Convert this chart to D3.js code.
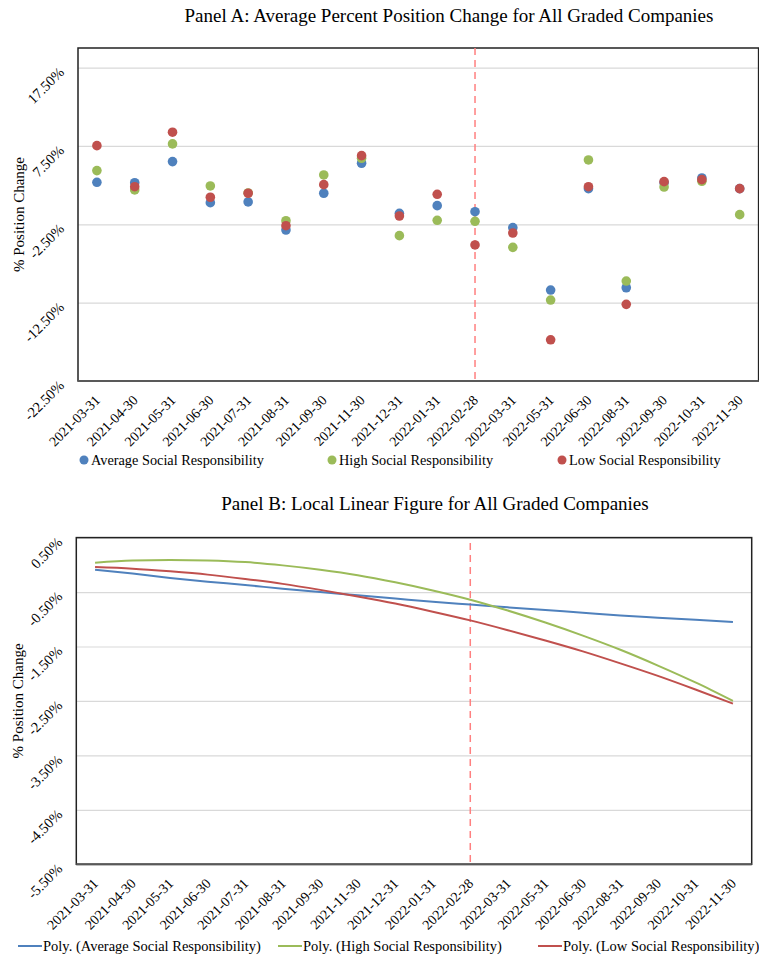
<!DOCTYPE html>
<html>
<head>
<meta charset="utf-8">
<script src="https://cdn.jsdelivr.net/npm/d3@7"></script>
<style>
    body { margin: 0; background: #fff; }
    svg text { font-family: "Liberation Serif", "Times New Roman", serif; fill: #000; }
</style>
</head>
<body>
<div id="chart"></div>
<script>
// month-end dates on the category axis
const categories = ["2021-03-31", "2021-04-30", "2021-05-31", "2021-06-30", "2021-07-31", "2021-08-31", "2021-09-30", "2021-11-30", "2021-12-31",
    "2022-01-31", "2022-02-28", "2022-03-31", "2022-05-31", "2022-06-30", "2022-08-31", "2022-09-30", "2022-10-31", "2022-11-30"];
const eventDate = "2022-02-28";

// Panel A: average % position change
const avgChange = [2.86, 2.81, 5.5, 0.26, 0.35, -3.23, 1.46, 5.29, -1.1, -0.12, -0.89, -2.93, -10.89, 2.05, -10.6, 2.8, 3.41, 2.05];
const highChange = [4.35, 1.88, 7.76, 2.39, 1.5, -2.04, 3.8, 5.93, -3.95, -1.99, -2.12, -5.44, -12.17, 5.71, -9.74, 2.26, 2.99, -1.27];
const lowChange = [7.54, 2.3, 9.25, 0.95, 1.46, -2.68, 2.56, 6.26, -1.44, 1.33, -5.14, -3.61, -17.24, 2.3, -12.72, 2.94, 3.2, 2.05];

// Panel B: poly trend values at each category
const avgTrend = [-0.09, -0.16, -0.24, -0.31, -0.37, -0.44, -0.50, -0.56, -0.62, -0.68, -0.73, -0.78, -0.83, -0.88, -0.93, -0.97, -1.01, -1.05];
const highTrend = [0.04, 0.08, 0.09, 0.08, 0.05, -0.01, -0.09, -0.19, -0.32, -0.47, -0.64, -0.84, -1.06, -1.30, -1.56, -1.85, -2.16, -2.50];
const lowTrend = [-0.04, -0.07, -0.12, -0.18, -0.26, -0.35, -0.46, -0.58, -0.71, -0.86, -1.02, -1.20, -1.39, -1.59, -1.81, -2.04, -2.29, -2.55];

const domainA = [-22.5, 20], ticksA = [-22.5, -12.5, -2.5, 7.5, 17.5];
const domainB = [-5.5, 0.5], ticksB = [-5.5, -4.5, -3.5, -2.5, -1.5, -0.5, 0.5];

const seriesNames = ["Average Social Responsibility", "High Social Responsibility", "Low Social Responsibility"];
const colors = ["#4f81bd", "#9bbb59", "#c0504d"];

(function () {
    const W = 759, H = 960, fmt = d => d.toFixed(2) + "%";
    const svg = d3.select("#chart").append("svg").attr("width", W).attr("height", H);

    function panel(o) {
        const x = d3.scaleBand().domain(categories).range([o.l, o.r]),
            y = d3.scaleLinear().domain(o.domain).range([o.b, o.t]),
            cx = c => x(c) + x.bandwidth() / 2,
            g = svg.append("g");

        g.append("text").attr("x", o.titleX).attr("y", o.titleY).attr("text-anchor", "middle")
            .style("font-size", "19px").text(o.title);

        // grid
        const grid = g.append("g").attr("transform", `translate(${o.l},0)`)
            .call(d3.axisLeft(y).tickValues(o.ticks).tickSize(-(o.r - o.l)).tickFormat(""));
        grid.select(".domain").remove();
        grid.selectAll("line").attr("stroke", "#d9d9d9").attr("stroke-width", 1.2);

        // frame
        g.append("rect").attr("x", o.l).attr("y", o.t).attr("width", o.r - o.l).attr("height", o.b - o.t)
            .attr("fill", "none").attr("stroke", "#222").attr("stroke-width", 1.5);
        g.append("line").attr("x1", o.l).attr("x2", o.r).attr("y1", o.b).attr("y2", o.b)
            .attr("stroke", "#595959").attr("stroke-width", 2);

        // y labels
        const ya = g.append("g").attr("transform", `translate(${o.l},0)`)
            .call(d3.axisLeft(y).tickValues(o.ticks).tickSize(0).tickFormat(fmt));
        ya.select(".domain").remove();
        ya.selectAll("text").attr("x", 0).attr("dy", 0).attr("text-anchor", "end")
            .attr("transform", "translate(-13,5) rotate(-45)").style("font-size", "14.5px");

        g.append("text").attr("transform", `translate(${o.titleYX},${(o.t + o.b) / 2}) rotate(-90)`)
            .attr("text-anchor", "middle").style("font-size", "15px").text("% Position Change");

        // x labels
        const xa = g.append("g").attr("transform", `translate(0,${o.b})`)
            .call(d3.axisBottom(x).tickSize(0));
        xa.select(".domain").remove();
        xa.selectAll("text").attr("y", 0).attr("dy", 0).attr("text-anchor", "end")
            .attr("transform", "translate(4,20) rotate(-45)").style("font-size", "14px");

        // event marker
        g.append("line").attr("x1", cx(eventDate)).attr("x2", cx(eventDate)).attr("y1", o.dashTop).attr("y2", o.b)
            .attr("stroke", "#ff8080").attr("stroke-width", 1.5).attr("stroke-dasharray", "7,5");

        return { g, x, y, cx };
    }

    // Panel A
    const A = panel({
        l: 78, r: 758.6, t: 48, b: 381, domain: domainA, ticks: ticksA, dashTop: 48,
        title: "Panel A: Average Percent Position Change for All Graded Companies", titleX: 449, titleY: 22, titleYX: 24
    });
    [avgChange, highChange, lowChange].forEach((vals, i) => {
        A.g.append("g").selectAll("circle").data(vals).join("circle")
            .attr("cx", (d, j) => A.cx(categories[j])).attr("cy", d => A.y(d))
            .attr("r", 4.8).attr("fill", colors[i]);
    });
    const legA = [84, 332, 562];
    seriesNames.forEach((n, i) => {
        A.g.append("circle").attr("cx", legA[i]).attr("cy", 460).attr("r", 4.5).attr("fill", colors[i]);
        A.g.append("text").attr("x", legA[i] + 7).attr("y", 465).style("font-size", "14.3px").text(n);
    });

    // Panel B
    const B = panel({
        l: 76.3, r: 751.7, t: 537.6, b: 864.3, domain: domainB, ticks: ticksB, dashTop: 543,
        title: "Panel B: Local Linear Figure for All Graded Companies", titleX: 435, titleY: 510, titleYX: 23
    });
    const line = d3.line().x((d, j) => B.cx(categories[j])).y(d => B.y(d)).curve(d3.curveMonotoneX);
    [avgTrend, highTrend, lowTrend].forEach((vals, i) => {
        B.g.append("path").datum(vals).attr("d", line).attr("fill", "none")
            .attr("stroke", colors[i]).attr("stroke-width", 2);
    });
    const legB = [18, 278, 538];
    seriesNames.forEach((n, i) => {
        B.g.append("line").attr("x1", legB[i]).attr("x2", legB[i] + 24).attr("y1", 946).attr("y2", 946)
            .attr("stroke", colors[i]).attr("stroke-width", 2);
        B.g.append("text").attr("x", legB[i] + 25).attr("y", 951).style("font-size", "14.5px").text(`Poly. (${n})`);
    });
})();
</script>
</body>
</html>
